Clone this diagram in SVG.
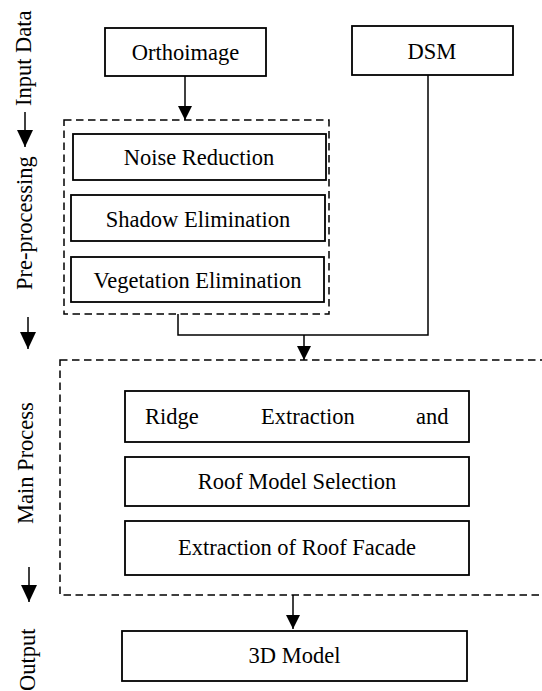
<svg xmlns="http://www.w3.org/2000/svg" width="542" height="691" viewBox="0 0 542 691">
<defs>
<marker id="ah" markerUnits="userSpaceOnUse" markerWidth="14" markerHeight="14" refX="14" refY="7" orient="auto">
<path d="M0,0 L14,7 L0,14 z" fill="#000"/>
</marker>
<marker id="ahL" markerUnits="userSpaceOnUse" markerWidth="17" markerHeight="16" refX="17" refY="8" orient="auto">
<path d="M0,0 L17,8 L0,16 z" fill="#000"/>
</marker>
</defs>
<rect width="542" height="691" fill="#fff"/>
<g id="stage-labels" font-family="Liberation Serif, serif" font-size="22.5" fill="#000">
<text transform="translate(31,106) rotate(-90)">Input Data</text>
<text transform="translate(32,290) rotate(-90)">Pre-processing</text>
<text transform="translate(33,524) rotate(-90)">Main Process</text>
<text transform="translate(35,691) rotate(-90)">Output</text>
<g fill="none" stroke="#000" stroke-width="1.5">
<line x1="25" y1="112" x2="25" y2="147" marker-end="url(#ahL)"/>
<line x1="28" y1="317" x2="28" y2="349" marker-end="url(#ahL)"/>
<line x1="29" y1="567" x2="29" y2="602" marker-end="url(#ahL)"/>
</g>
</g>
<g fill="none" stroke="#000" stroke-width="1.5" stroke-dasharray="7.5 4.5">
<g id="preprocessing-group"><rect x="64" y="120" width="265" height="194"/></g>
<g id="main-process-group"><rect x="60" y="360" width="500" height="235"/></g>
</g>
<g id="connectors" fill="none" stroke="#000" stroke-width="1.5">
<line x1="185" y1="76" x2="185" y2="120" marker-end="url(#ah)"/>
<polyline points="428,75 428,335 178,335 178,314"/>
<line x1="304" y1="335" x2="304" y2="360" marker-end="url(#ah)"/>
<line x1="293" y1="595" x2="293" y2="629" marker-end="url(#ah)"/>
</g>
<g id="nodes" font-family="Liberation Serif, serif" font-size="22.5" text-anchor="middle">
<g id="orthoimage"><rect fill="#fff" stroke="#000" stroke-width="1.8" x="105" y="28" width="161" height="48"/><text x="185.5" y="59.5">Orthoimage</text></g>
<g id="dsm"><rect fill="#fff" stroke="#000" stroke-width="1.8" x="352" y="26" width="161" height="49"/><text x="432" y="58.5">DSM</text></g>
<g id="noise-reduction"><rect fill="#fff" stroke="#000" stroke-width="1.8" x="73" y="134" width="253" height="46"/><text x="199" y="165">Noise Reduction</text></g>
<g id="shadow-elimination"><rect fill="#fff" stroke="#000" stroke-width="1.8" x="71" y="195" width="254" height="46"/><text x="198" y="226.5">Shadow Elimination</text></g>
<g id="vegetation-elimination"><rect fill="#fff" stroke="#000" stroke-width="1.8" x="71" y="257" width="253" height="45"/><text x="197.5" y="287.5">Vegetation Elimination</text></g>
<g id="ridge-extraction"><rect fill="#fff" stroke="#000" stroke-width="1.8" x="125" y="391" width="344" height="51"/><text y="423.5" text-anchor="start"><tspan x="145">Ridge</tspan><tspan x="261">Extraction</tspan><tspan x="416">and</tspan></text></g>
<g id="roof-model-selection"><rect fill="#fff" stroke="#000" stroke-width="1.8" x="125" y="457" width="344" height="49"/><text x="297" y="489">Roof Model Selection</text></g>
<g id="extraction-roof-facade"><rect fill="#fff" stroke="#000" stroke-width="1.8" x="125" y="521" width="344" height="54"/><text x="297" y="555">Extraction of Roof Facade</text></g>
<g id="model-3d"><rect fill="#fff" stroke="#000" stroke-width="1.8" x="122" y="631" width="345" height="50"/><text x="294.5" y="663">3D Model</text></g>
</g>
</svg>
